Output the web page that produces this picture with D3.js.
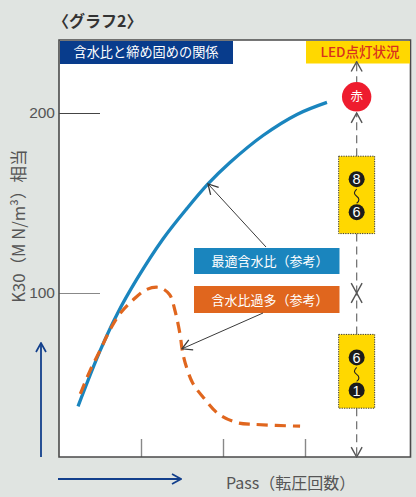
<!DOCTYPE html>
<html>
<head>
  <meta charset="utf-8">
  <title>グラフ2</title>
  <style>
    html, body { margin: 0; padding: 0; background: #e0e4e1; }
    svg { display: block; }
    text { font-family: "Noto Sans CJK JP", "Noto Sans", sans-serif; }
    .num { font-family: "Liberation Sans", sans-serif; }
  </style>
</head>
<body>
  <script src="https://d3js.org/d3.v7.min.js"></script>
  <script>
// values
const optimumPass = [0.232, 0.5, 0.707, 0.951, 1.268, 1.561, 1.817, 2.085, 2.488, 2.902, 3.268];
const optimumK30 = [37, 67.8, 88.1, 107.8, 130, 147, 160.6, 172.5, 187.5, 199.2, 205.9];
const excessPass = [0.26, 0.38, 0.5, 0.62, 0.74, 0.9, 1.07, 1.23, 1.35, 1.41, 1.48, 1.5, 1.54, 1.63, 1.76, 1.94, 2.17, 2.39, 2.94];
const excessK30 = [44, 57, 68, 79.4, 88.3, 96, 102, 103, 99, 91, 76, 69, 61, 50, 42, 33, 28, 27, 26];
const yTicks = [100, 200];
const xTicks = [1, 2, 3];

// LED status column
const ledPass = 3.63;
const ledRedK30 = 209;
const ledBoxTops = [176, 77];
const ledBoxBottoms = [133, 36];
const ledBoxDigits = [["8", "6"], ["6", "1"]];

const width = 416;
const height = 497;
const frame = { left: 59, top: 40, right: 410.5, bottom: 457 };

const xScale = d3.scaleLinear().domain([0, 3]).range([59, 305]);
const yScale = d3.scaleLinear().domain([0, 200]).range([473, 113]);

const svg = d3.select("body").append("svg")
  .attr("width", width)
  .attr("height", height);

const defs = svg.append("defs");
function addMarker(id, color, w, size) {
  defs.append("marker")
    .attr("id", id)
    .attr("viewBox", "-10 -6 11 12")
    .attr("refX", 0).attr("refY", 0)
    .attr("markerUnits", "userSpaceOnUse")
    .attr("markerWidth", size).attr("markerHeight", size * 12 / 11)
    .attr("orient", "auto")
    .append("path")
    .attr("d", "M-9,-5 L0,0 L-9,5")
    .attr("fill", "none")
    .attr("stroke", color)
    .attr("stroke-width", w);
}
addMarker("tip-dark", "#3a3a3a", 1.2, 12);
addMarker("tip-grey", "#555", 1.3, 12);
addMarker("tip-blue", "#123f8c", 1.7, 11);

// plot area
svg.append("rect")
  .attr("x", frame.left).attr("y", frame.top)
  .attr("width", frame.right - frame.left).attr("height", frame.bottom - frame.top)
  .attr("fill", "#fff");

// axes
const yAxis = d3.axisLeft(yScale).tickValues(yTicks).tickSizeOuter(0).tickSizeInner(-41).tickPadding(4);
const yG = svg.append("g").attr("transform", `translate(${frame.left},0)`).call(yAxis);
yG.select(".domain").remove();
yG.selectAll(".tick line").attr("stroke", d => d === 200 ? "#444" : "#888").attr("stroke-width", 1.2);
yG.selectAll(".tick text")
  .attr("class", "num")
  .attr("font-size", 15.5)
  .attr("fill", "#555")
  .style("font-family", '"Liberation Sans", sans-serif');

const xAxis = d3.axisBottom(xScale).tickValues(xTicks).tickSizeOuter(0).tickSizeInner(-18).tickFormat("");
const xG = svg.append("g").attr("transform", `translate(0,${frame.bottom})`).call(xAxis);
xG.select(".domain").remove();
xG.selectAll(".tick line").attr("stroke", "#888").attr("stroke-width", 1.4);

// curves
const line = d3.line()
  .x(d => xScale(d[0]))
  .y(d => yScale(d[1]))
  .curve(d3.curveCatmullRom.alpha(0.5));

svg.append("path")
  .attr("d", line(d3.zip(optimumPass, optimumK30)))
  .attr("fill", "none")
  .attr("stroke", "#1a85be")
  .attr("stroke-width", 3.3);

svg.append("path")
  .attr("d", line(d3.zip(excessPass, excessK30)))
  .attr("fill", "none")
  .attr("stroke", "#e0661e")
  .attr("stroke-width", 3.2)
  .attr("stroke-dasharray", "11 7");

// frame
svg.append("path")
  .attr("d", `M${frame.left},${frame.bottom} V${frame.top} H${frame.right} V${frame.bottom} Z`)
  .attr("fill", "none")
  .attr("stroke", "#4a4a4a")
  .attr("stroke-width", 1.6);

// header bars
svg.append("rect").attr("x", 60).attr("y", 41).attr("width", 173).attr("height", 23).attr("fill", "#083c8c");
svg.append("text").attr("x", 146).attr("y", 56.8).attr("text-anchor", "middle")
  .attr("font-size", 13.2).attr("fill", "#fff").text("含水比と締め固めの関係");

svg.append("rect").attr("x", 306).attr("y", 41).attr("width", 104).attr("height", 22.5).attr("fill", "#ffd800");
svg.append("text").attr("x", 360).attr("y", 56.5).attr("text-anchor", "middle")
  .attr("font-size", 13.5).attr("fill", "#d9301e").attr("font-weight", 500).text("LED点灯状況");

// LED column
const ledX = xScale(ledPass);
const ledArrow = (k1, k2) => svg.append("line")
  .attr("x1", ledX).attr("x2", ledX)
  .attr("y1", yScale(k1)).attr("y2", yScale(k2))
  .attr("stroke", "#777").attr("stroke-width", 1.3)
  .attr("stroke-dasharray", "8 5")
  .attr("marker-end", "url(#tip-grey)");

ledArrow(216, 228.5);  // above the red lamp
ledArrow(176, 200);    // upper box up to the red lamp
ledArrow(133, 100);    // upper box down to the 100 line
ledArrow(77, 100);     // lower box up to the 100 line
ledArrow(36, 8.9);     // lower box down to the axis

svg.append("circle")
  .attr("cx", ledX).attr("cy", yScale(ledRedK30)).attr("r", 14.7)
  .attr("fill", "#ee1c2e");
svg.append("text")
  .attr("x", ledX).attr("y", yScale(ledRedK30) + 4.6)
  .attr("text-anchor", "middle").attr("font-size", 12.5).attr("fill", "#fff").text("赤");

ledBoxTops.forEach((top, i) => {
  const y1 = yScale(top);
  const y2 = yScale(ledBoxBottoms[i]);
  const g = svg.append("g");
  g.append("rect")
    .attr("x", ledX - 18).attr("y", y1)
    .attr("width", 36).attr("height", y2 - y1)
    .attr("fill", "#ffd800")
    .attr("stroke", "#333")
    .attr("stroke-width", 1)
    .attr("stroke-dasharray", "1.2 1.2");
  const cy = [y1 + 23, y1 + 56];
  g.append("path")
    .attr("d", `M${ledX},${cy[0] + 10} c-3,3 -3,5 0,7 c3,2 3,5 0,7`)
    .attr("fill", "none").attr("stroke", "#222").attr("stroke-width", 1.1);
  ledBoxDigits[i].forEach((digit, j) => {
    g.append("circle").attr("cx", ledX).attr("cy", cy[j]).attr("r", 8).attr("fill", "#1c1c1c");
    g.append("text").attr("class", "num")
      .attr("x", ledX).attr("y", cy[j] + 5.2)
      .attr("text-anchor", "middle").attr("font-size", 14.5)
      .attr("fill", "#fff").text(digit);
  });
});

// series labels
const labelX = 194;
const labelW = 145.5;
svg.append("rect").attr("x", labelX).attr("y", 248).attr("width", labelW).attr("height", 26).attr("fill", "#1a85be");
svg.append("text").attr("x", 270).attr("y", 265.8).attr("text-anchor", "middle")
  .attr("font-size", 13).attr("fill", "#fff").text("最適含水比（参考）");
svg.append("rect").attr("x", labelX).attr("y", 286).attr("width", labelW).attr("height", 27).attr("fill", "#e0661e");
svg.append("text").attr("x", 270).attr("y", 304.8).attr("text-anchor", "middle")
  .attr("font-size", 13).attr("fill", "#fff").text("含水比過多（参考）");

// leader lines, from the label edge to a point on the curve
svg.append("line")
  .attr("x1", 266).attr("y1", 247)
  .attr("x2", xScale(optimumPass[6])).attr("y2", yScale(optimumK30[6]))
  .attr("stroke", "#3a3a3a").attr("stroke-width", 1)
  .attr("marker-end", "url(#tip-dark)");
svg.append("line")
  .attr("x1", 263).attr("y1", 313)
  .attr("x2", xScale(excessPass[11])).attr("y2", yScale(excessK30[11]))
  .attr("stroke", "#3a3a3a").attr("stroke-width", 1)
  .attr("marker-end", "url(#tip-dark)");

// titles
svg.append("text").attr("x", 53).attr("y", 27)
  .attr("font-size", 16).attr("font-weight", 700).attr("fill", "#333").text("〈グラフ2〉");

svg.append("text")
  .attr("transform", "translate(25,226) rotate(-90)")
  .attr("text-anchor", "middle")
  .attr("font-size", 16.6).attr("fill", "#555")
  .text("K30（M N/m³）相当");

svg.append("text").attr("x", 226).attr("y", 489)
  .attr("font-size", 16).attr("fill", "#555").text("Pass（転圧回数）");

// blue direction arrows
svg.append("line")
  .attr("x1", 41).attr("y1", 457).attr("x2", 41).attr("y2", 343)
  .attr("stroke", "#123f8c").attr("stroke-width", 1.8).attr("marker-end", "url(#tip-blue)");
svg.append("line")
  .attr("x1", 58).attr("y1", 479).attr("x2", 181).attr("y2", 479)
  .attr("stroke", "#123f8c").attr("stroke-width", 1.8).attr("marker-end", "url(#tip-blue)");
  </script>
</body>
</html>
